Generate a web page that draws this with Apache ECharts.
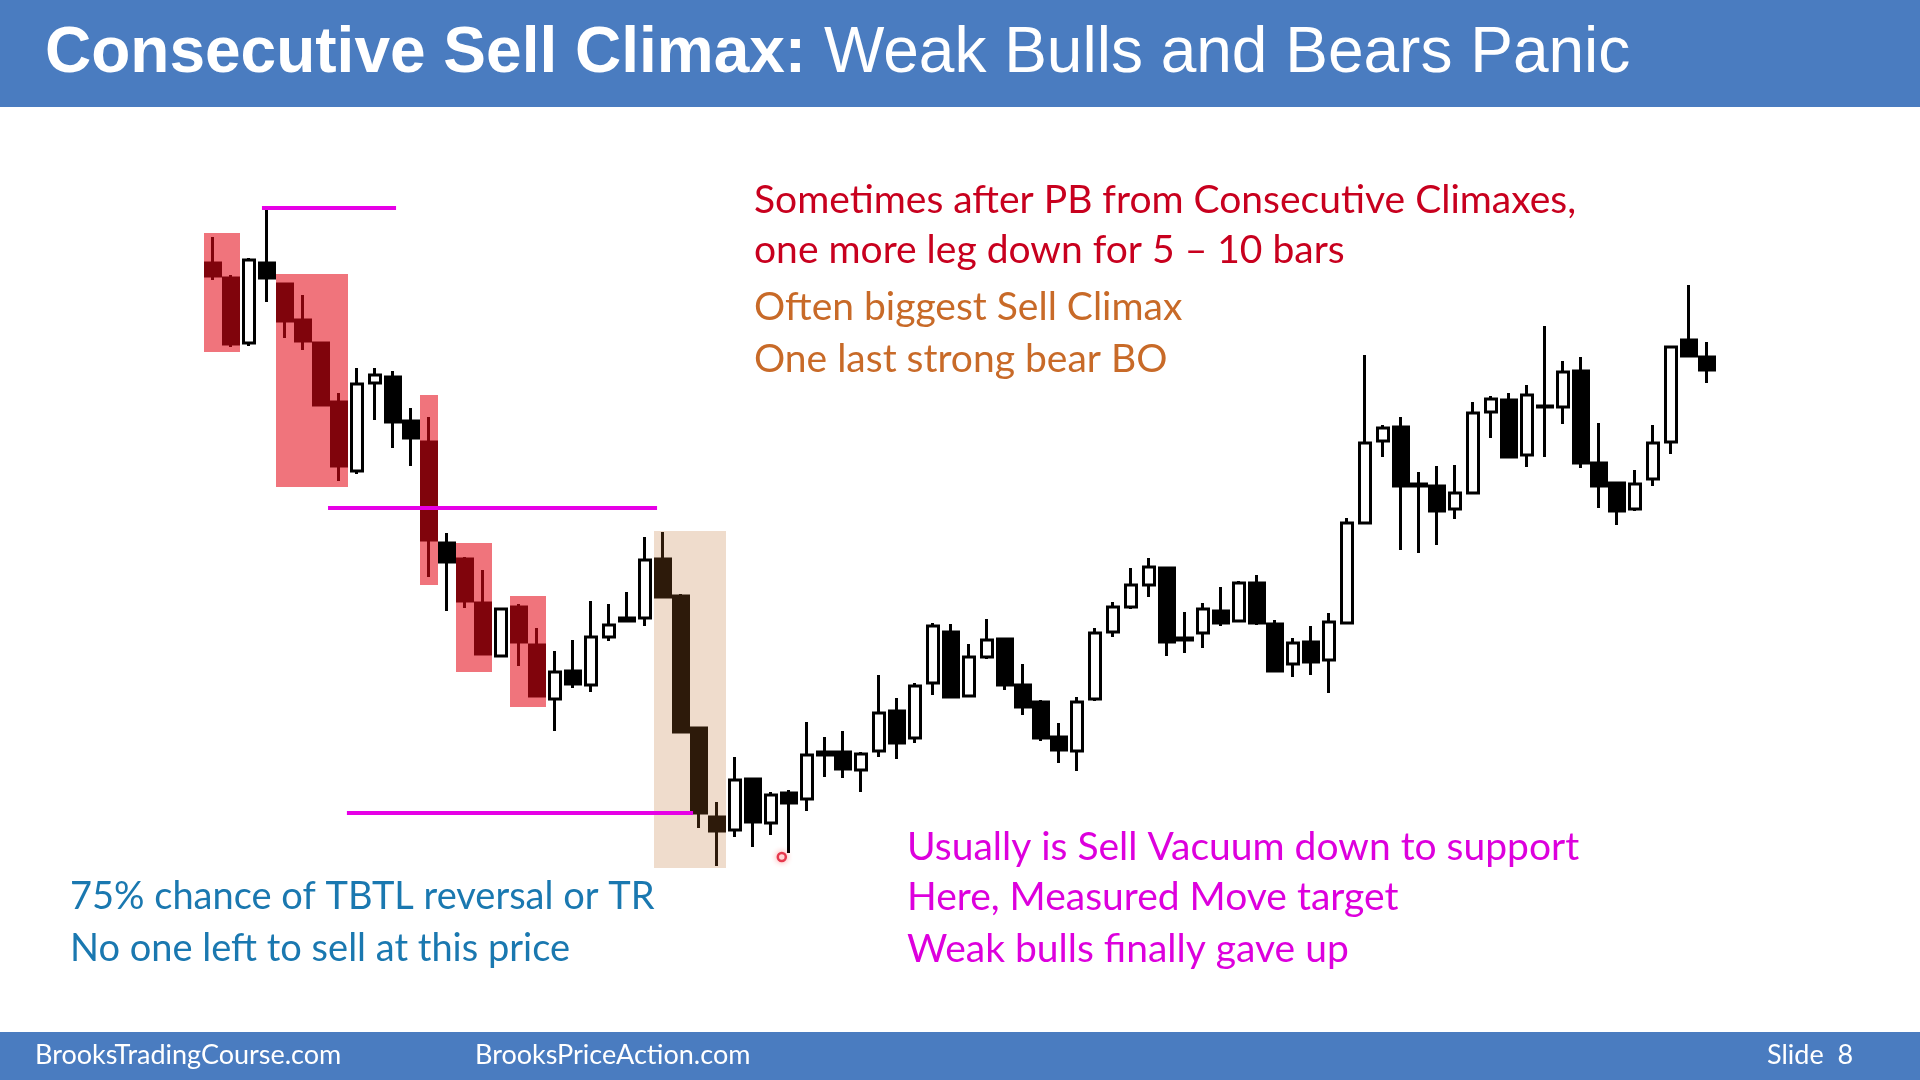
<!DOCTYPE html>
<html><head><meta charset="utf-8">
<script src="https://cdn.jsdelivr.net/npm/echarts@6/dist/echarts.min.js"></script>
<style>html,body{margin:0;padding:0;background:#fff}#c{width:1920px;height:1080px}</style>
</head><body><div id="c"></div>
<script>
// ---- candle values (price units) ----
const opens  = [737,722,657,737,716,680,657,598,529,617,623,579,558,457,441,397,344,393,355,301,329,315,363,382,382,441,404,272,183,170,221,177,207,201,248,248,230,249,289,262,317,368,304,343,361,315,298,263,249,301,368,393,415,432,362,367,389,379,417,376,336,358,340,377,477,559,573,516,514,491,507,588,600,545,594,593,629,537,517,491,521,558,660,643];
const closes = [724,656,740,722,679,659,595,534,616,625,578,562,460,438,399,346,391,358,304,328,316,363,375,379,440,403,268,187,169,220,178,205,197,245,245,231,246,287,257,314,374,303,343,360,315,293,262,250,298,367,393,415,433,358,360,391,377,417,377,329,357,338,378,477,557,572,514,514,489,507,587,601,543,605,593,628,537,514,489,516,557,653,644,630];
const lows   = [720,653,654,698,662,650,594,519,526,580,552,534,423,389,392,345,343,334,304,269,312,308,359,378,374,403,268,172,134,163,153,165,147,189,223,222,208,243,241,257,305,303,303,341,310,285,259,237,229,299,363,391,403,344,347,352,374,378,375,328,323,325,307,377,477,543,450,447,455,481,507,562,543,533,543,576,532,492,475,489,514,546,643,617];
const highs  = [763,725,742,790,716,705,657,607,632,632,629,592,583,467,443,430,392,396,372,349,360,399,396,408,463,468,406,272,198,243,221,208,210,278,263,269,248,325,302,317,377,376,356,381,361,336,300,277,303,372,398,432,442,433,388,397,413,419,425,380,362,374,387,482,645,575,583,528,534,535,598,604,607,615,674,639,643,577,518,530,575,653,715,658];

// ---- highlighted climax zones (bar index range, price range) ----
const zoneStart  = [0, 4, 12, 14, 17, 25];
const zoneEnd    = [1, 7, 12, 15, 18, 28];
const zoneTop    = [767, 726, 605, 457, 404, 469];
const zoneBottom = [648, 513, 415, 328, 293, 132];
const zoneKind   = ['climax','climax','climax','climax','climax','final'];

// ---- magenta price levels (bar position range, price) ----
const levelFrom  = [2.72, 6.39, 7.44];
const levelTo    = [10.17, 24.67, 26.67];
const levelPrice = [792, 492, 187];

// ---- cursor marker ----
const markerPos = [31.6, 143];

const categories = opens.map((_, i) => 'B' + (i + 1));
const bullData = [], bearData = [];
opens.forEach((o, i) => {
  const item = [i, o, closes[i], lows[i], highs[i]];
  if (closes[i] > o) bullData.push(item); else bearData.push(item);
});
const zoneData = zoneStart.map((s, i) => [s, zoneEnd[i], zoneTop[i], zoneBottom[i], zoneKind[i] === 'final' ? 1 : 0]);
const levelData = levelFrom.map((f, i) => [f, levelTo[i], levelPrice[i]]);

const chart = echarts.init(document.getElementById('c'), null, {renderer: 'canvas'});
const bodyFont = 'Lato';
const txt = (x, y, text, color, size, font) => ({
  type: 'text', x: x, y: y, z: 100,
  style: {text: text, fill: color, font: (size) + 'px ' + (font || bodyFont), verticalAlign: 'middle', align: 'left'}
});
chart.setOption({
  animation: false,
  backgroundColor: '#ffffff',
  grid: {left: 204, right: 204, top: 150, bottom: 180, containLabel: false},
  xAxis: [
    {type: 'category', data: categories, boundaryGap: true, show: false},
    {type: 'value', min: -0.5, max: 83.5, show: false}
  ],
  yAxis: [{type: 'value', min: 100, max: 850, show: false, splitLine: {show: false}}],
  graphic: [
    {type: 'rect', shape: {x: 0, y: 0, width: 1920, height: 107}, style: {fill: '#4a7cc0'}, z: 90},
    {type: 'rect', shape: {x: 0, y: 1032, width: 1920, height: 48}, style: {fill: '#4a7cc0'}, z: 90},
    {type: 'text', x: 45, y: 54, z: 100, style: {
      text: '{b|Consecutive Sell Climax:}{n| Weak Bulls and Bears Panic}',
      verticalAlign: 'middle', fill: '#fff',
      rich: {
        b: {fontFamily: 'Liberation Sans', fontWeight: 'bold', fontSize: 64, fill: '#fff'},
        n: {fontFamily: 'Liberation Sans', fontWeight: 'normal', fontSize: 64, fill: '#fff'}
      }}},
    txt(754, 200, 'Sometimes after PB from Consecutive Climaxes,', '#c8001e', 39),
    txt(754, 250, 'one more leg down for 5 \u2013 10 bars', '#c8001e', 39),
    txt(754, 307, 'Often biggest Sell Climax', '#c86a28', 39),
    txt(754, 359, 'One last strong bear BO', '#c86a28', 39),
    txt(70, 897, '75% chance of TBTL reversal or TR', '#1a78b0', 38),
    txt(70, 949, 'No one left to sell at this price', '#1a78b0', 38),
    txt(907, 847, 'Usually is Sell Vacuum down to support', '#dd00dd', 39),
    txt(907, 897, 'Here, Measured Move target', '#dd00dd', 39),
    txt(907, 949, 'Weak bulls finally gave up', '#dd00dd', 39),
    txt(35, 1055, 'BrooksTradingCourse.com', '#ffffff', 27),
    txt(475, 1055, 'BrooksPriceAction.com', '#ffffff', 27),
    txt(1767, 1055, 'Slide  8', '#ffffff', 27)
  ],
  series: [
    {
      type: 'candlestick', name: 'bull', data: bullData, encode: {x: 0, y: [1, 2, 3, 4]},
      barWidth: 12, z: 2,
      itemStyle: {color: '#ffffff', color0: '#ffffff', borderColor: '#000000', borderColor0: '#000000', borderColorDoji: '#000000', borderWidth: 3}
    },
    {
      type: 'candlestick', name: 'bear', data: bearData, encode: {x: 0, y: [1, 2, 3, 4]},
      barWidth: 15, z: 2,
      itemStyle: {color: '#000000', color0: '#000000', borderColor: '#000000', borderColor0: '#000000', borderColorDoji: '#000000', borderWidth: 3}
    },
    {
      type: 'custom', name: 'zones', data: zoneData, z: 5, encode: {x: [0, 1], y: [2, 3]},
      renderItem: function (params, api) {
        const p0 = api.coord([api.value(0), api.value(2)]);
        const p1 = api.coord([api.value(1), api.value(3)]);
        const bw = api.size([1, 0])[0];
        const fin = api.value(4) === 1;
        return {
          type: 'rect',
          shape: {x: p0[0] - bw / 2, y: p0[1], width: p1[0] - p0[0] + bw, height: p1[1] - p0[1]},
          style: {fill: fin ? 'rgba(190,110,42,0.24)' : 'rgba(228,8,22,0.56)'}
        };
      }
    },
    {
      type: 'custom', name: 'levels', data: levelData, xAxisIndex: 1, z: 6, encode: {x: [0, 1], y: 2},
      renderItem: function (params, api) {
        const a = api.coord([api.value(0), api.value(2)]);
        const b = api.coord([api.value(1), api.value(2)]);
        return {type: 'line', shape: {x1: a[0], y1: a[1], x2: b[0], y2: b[1]}, style: {stroke: '#e600e6', lineWidth: 4}};
      }
    },
    {
      type: 'scatter', name: 'cursor', xAxisIndex: 1, z: 7, data: [markerPos],
      symbol: 'circle', symbolSize: 8,
      itemStyle: {color: 'rgba(255,255,255,0.9)', borderColor: '#e0102a', borderWidth: 2.5, shadowBlur: 6, shadowColor: 'rgba(255,0,0,0.4)'}
    }
  ]
});
</script></body></html>
